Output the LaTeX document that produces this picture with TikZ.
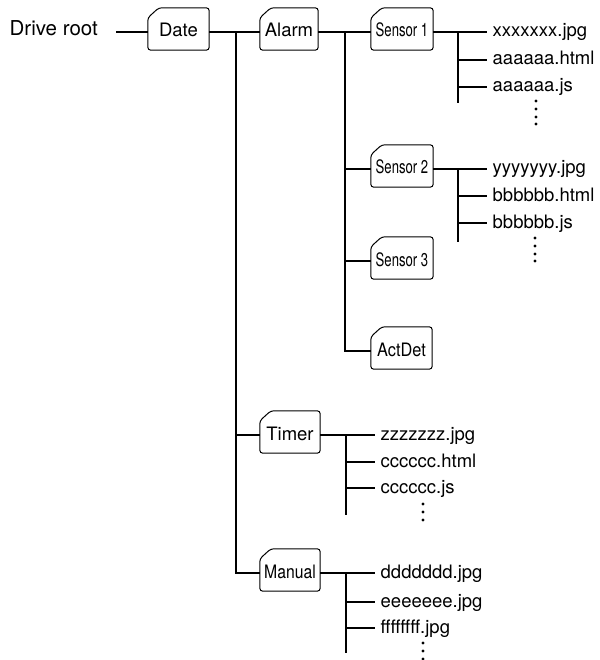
\documentclass[tikz,border=0pt]{standalone}
\usepackage{fontspec}
\setmainfont{TeX Gyre Heros}
\usepackage{graphicx}
\begin{document}
\begin{tikzpicture}[x=1pt,y=-1pt,
  conn/.style={line width=2.7pt},
  folderline/.style={line width=1pt, rounded corners=3pt},
  folder/.style={minimum width=#1, minimum height=36pt, inner sep=0pt,
    text height=10pt, text depth=0pt, font=\fontsize{18.5}{20}\selectfont},
  file/.style={anchor=west, inner xsep=5.5pt, inner ysep=0pt,
    text height=10pt, text depth=0pt, font=\fontsize{18.5}{20}\selectfont},
  rootlabel/.style={anchor=east, inner sep=0pt, text height=8pt, text depth=0pt,
    font=\fontsize{20.5}{22}\selectfont},
  vdot/.style={fill=black}
]
\useasboundingbox (0,0) rectangle (599,660);

% root
\node[rootlabel] (root) at (98,32) {Drive root};

% folders
\node[folder=61pt] (date)   at (178.5,32) {Date};
\node[folder=58pt] (alarm)  at (289,32)   {Alarm};
\node[folder=62pt] (s1)     at (402,32)   {\scalebox{0.71}[1]{Sensor 1}};
\node[folder=62pt] (s2)     at (402,169)  {\scalebox{0.71}[1]{Sensor 2}};
\node[folder=62pt] (s3)     at (402,261)  {\scalebox{0.71}[1]{Sensor 3}};
\node[folder=61pt] (act)    at (401.5,351){\scalebox{0.88}[1]{ActDet}};
\node[folder=60pt] (timer)  at (290,435)  {Timer};
\node[folder=60pt] (manual) at (290,573)  {\scalebox{0.85}[1]{Manual}};

\foreach \n in {date,alarm,s1,s2,s3,act,timer,manual}{
  \draw[folderline] (\n.south west) -- ([yshift=-4pt]\n.north west)
    -- ([xshift=11pt,yshift=6pt]\n.north west) -- ([yshift=6pt]\n.north east)
    -- (\n.south east) -- cycle;
}

% files
\node[file] (f11) at (487,32)  {xxxxxxx.jpg};
\node[file] (f12) at (487,60)  {aaaaaa.html};
\node[file] (f13) at (487,87)  {aaaaaa.js};
\node[file] (f21) at (487,169) {yyyyyyy.jpg};
\node[file] (f22) at (487,196) {bbbbbb.html};
\node[file] (f23) at (487,223) {bbbbbb.js};
\node[file] (t1)  at (375,435) {zzzzzzz.jpg};
\node[file] (t2)  at (375,462) {cccccc.html};
\node[file] (t3)  at (375,488) {cccccc.js};
\node[file] (m1)  at (375,573) {ddddddd.jpg};
\node[file] (m2)  at (375,602) {eeeeeee.jpg};
\node[file] (m3)  at (375,628) {ffffffff.jpg};

% coordinates of trunks
\coordinate (dtop) at (236,32);
\coordinate (atop) at (345,32);
\coordinate (s1top) at (458,32);
\coordinate (s1bot) at (458,103);
\coordinate (s2top) at (458,169);
\coordinate (s2bot) at (458,242);
\coordinate (ttop) at (346,435);
\coordinate (tbot) at (346,515);
\coordinate (mtop) at (346,573);
\coordinate (mbot) at (346,653);
\coordinate (rootend) at (116,32);

% connectors
\draw[conn] (rootend) -- (date.west);
\draw[conn] (date.east) -- (alarm.west);
\draw[conn] (dtop) |- (timer.west);
\draw[conn] (dtop) |- (manual.west);
\draw[conn] (alarm.east) -- (s1.west);
\draw[conn] (atop) |- (s2.west);
\draw[conn] (atop) |- (s3.west);
\draw[conn] (atop) |- (act.west);

\draw[conn] (s1.east) -- (f11.west);
\draw[conn] (s1top) -- (s1bot);
\draw[conn] (s1top |- f12.west) -- (f12.west);
\draw[conn] (s1top |- f13.west) -- (f13.west);

\draw[conn] (s2.east) -- (f21.west);
\draw[conn] (s2top) -- (s2bot);
\draw[conn] (s2top |- f22.west) -- (f22.west);
\draw[conn] (s2top |- f23.west) -- (f23.west);

\draw[conn] (timer.east) -- (t1.west);
\draw[conn] (ttop) -- (tbot);
\draw[conn] (ttop |- t2.west) -- (t2.west);
\draw[conn] (ttop |- t3.west) -- (t3.west);

\draw[conn] (manual.east) -- (m1.west);
\draw[conn] (mtop) -- (mbot);
\draw[conn] (mtop |- m2.west) -- (m2.west);
\draw[conn] (mtop |- m3.west) -- (m3.west);

% continuation dots
\foreach \y in {101,109,117,124} \fill[vdot] (536,\y) circle (1.7);
\foreach \y in {238,246,254,261} \fill[vdot] (535,\y) circle (1.7);
\foreach \y in {504,512,520} \fill[vdot] (423,\y) circle (1.7);
\foreach \y in {643,651,659} \fill[vdot] (423,\y) circle (1.7);
\end{tikzpicture}
\end{document}
